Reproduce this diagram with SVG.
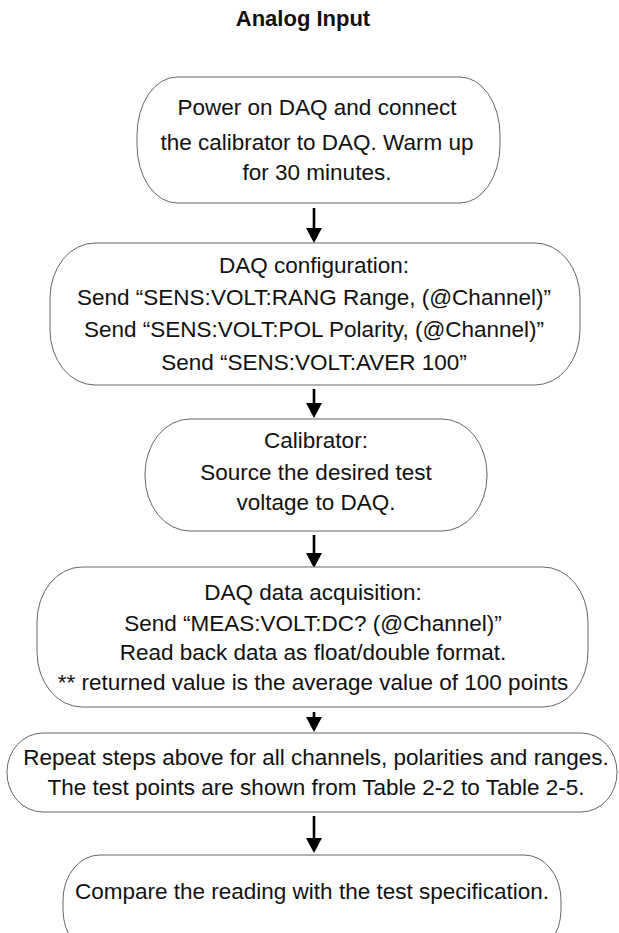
<svg xmlns="http://www.w3.org/2000/svg" width="619" height="933" viewBox="0 0 619 933">
<style>
.box{fill:#fff;stroke:#666;stroke-width:1}
.t{font-family:"Liberation Sans",Arial,sans-serif;font-size:22.5px;fill:#111;text-anchor:middle}
.title{font-family:"Liberation Sans",Arial,sans-serif;font-size:22px;font-weight:bold;fill:#111;text-anchor:middle}
.ln{stroke:#000;stroke-width:2.6}
.ah{fill:#000}
</style>
<text class="title" x="303" y="26">Analog Input</text>
<g id="connectors">
<line class="ln" x1="314" y1="208" x2="314" y2="230"/>
<path class="ah" d="M306,228 L322,228 L314,243 z"/>
<line class="ln" x1="314" y1="389" x2="314" y2="405"/>
<path class="ah" d="M306,403 L322,403 L314,418 z"/>
<line class="ln" x1="314" y1="535" x2="314" y2="555"/>
<path class="ah" d="M306,553 L322,553 L314,568 z"/>
<line class="ln" x1="314" y1="712" x2="314" y2="720"/>
<path class="ah" d="M306,717 L322,717 L314,732 z"/>
<line class="ln" x1="314" y1="816" x2="314" y2="840"/>
<path class="ah" d="M306,838 L322,838 L314,853 z"/>
</g>
<g id="n1">
<rect class="box" x="137" y="77" width="363" height="126" rx="40" ry="58"/>
<text class="t" x="317" y="115">Power on DAQ and connect</text>
<text class="t" x="317" y="150">the calibrator to DAQ. Warm up</text>
<text class="t" x="317" y="180">for 30 minutes.</text>
</g>
<g id="n2">
<rect class="box" x="50" y="243" width="530" height="142" rx="45" ry="55"/>
<text class="t" x="314" y="273">DAQ configuration:</text>
<text class="t" x="314" y="305">Send “SENS:VOLT:RANG Range, (@Channel)”</text>
<text class="t" x="314" y="337">Send “SENS:VOLT:POL Polarity, (@Channel)”</text>
<text class="t" x="314" y="370">Send “SENS:VOLT:AVER 100”</text>
</g>
<g id="n3">
<rect class="box" x="145" y="419" width="342" height="112" rx="45" ry="55"/>
<text class="t" x="316" y="448">Calibrator:</text>
<text class="t" x="316" y="480">Source the desired test</text>
<text class="t" x="316" y="510">voltage to DAQ.</text>
</g>
<g id="n4">
<rect class="box" x="37" y="567" width="551" height="140" rx="45" ry="55"/>
<text class="t" x="313" y="600">DAQ data acquisition:</text>
<text class="t" x="313" y="631">Send “MEAS:VOLT:DC? (@Channel)”</text>
<text class="t" x="313" y="660">Read back data as float/double format.</text>
<text class="t" x="313" y="690">** returned value is the average value of 100 points</text>
</g>
<g id="n5">
<rect class="box" x="7" y="733" width="610" height="79" rx="36" ry="39"/>
<text class="t" x="316" y="765">Repeat steps above for all channels, polarities and ranges.</text>
<text class="t" x="316" y="795">The test points are shown from Table 2-2 to Table 2-5.</text>
</g>
<g id="n6">
<rect class="box" x="63" y="855" width="498" height="100" rx="37" ry="45"/>
<text class="t" x="312" y="899">Compare the reading with the test specification.</text>
</g>
</svg>
